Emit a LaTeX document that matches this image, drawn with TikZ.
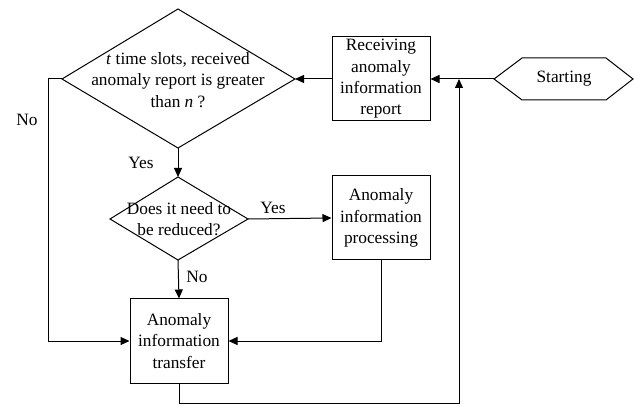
\documentclass[tikz,border=0pt]{standalone}
\usepackage{fontspec}
\setmainfont{Liberation Serif}
\usetikzlibrary{arrows.meta,shapes.geometric}
\begin{document}
\begin{tikzpicture}[x=1pt,y=-1pt,
  every node/.style={font=\fontsize{17.3}{21.3}\selectfont},
  box/.style={draw,line width=1pt,minimum width=98pt,minimum height=84pt,inner sep=0pt,align=center},
  lbl/.style={inner sep=0pt},
  conn/.style={line width=1pt},
  arr/.style={conn,-{Triangle[length=9pt,width=8pt]}}]
\useasboundingbox (0,0) rectangle (635,406);
% diamonds drawn as paths with text nodes
\node[lbl,align=center] (d1) at (178,80) {\textit{t} time slots, received\\anomaly report is greater\\than \textit{n} ?};
\draw[conn] (178,9) coordinate (d1t) -- (295,79) coordinate (d1r) -- (178,148) coordinate (d1b) -- (62,79) coordinate (d1l) -- cycle;
\node[lbl,align=center] (d2) at (179,219) {Does it need to\\be reduced?};
\draw[conn] (178,177) coordinate (d2t) -- (248,219) coordinate (d2r) -- (178,260) coordinate (d2b) -- (110,219) coordinate (d2l) -- cycle;
\node[box] (recv) at (381,79) {Receiving\\anomaly\\information\\report};
\node[box] (proc) at (381,218) {Anomaly\\information\\processing};
\node[box] (tran) at (179,341) {Anomaly\\information\\transfer};
\node[lbl] (start) at (564,79) {Starting};
\draw[conn] (494,79) coordinate (sl) -- (522,58) -- (606,58) -- (633,79) -- (606,100) -- (522,100) -- cycle;
\coordinate (j) at (459,79);
\coordinate (bl) at (179,403);
\coordinate (br) at (459,403);
\coordinate (nl) at (48,79);
% connectors
\draw[arr] (sl) -- (recv.east);
\draw[arr] (recv.west) -- (d1r);
\draw[arr] (d1b) -- (d2t);
\draw[arr] (d2r) -- (proc.west);
\draw[arr] (d2b) -- (tran.north);
\draw[arr] (d1l) -- (nl) |- (tran.west);
\draw[arr] (proc.south) |- (tran.east);
\draw[arr] (tran.south) -- (bl) -- (br) -- (j);
% labels
\node[lbl] (no1) at (27,120) {No};
\node[lbl] (yes1) at (141,163) {Yes};
\node[lbl] (yes2) at (273,208) {Yes};
\node[lbl] (no2) at (197,277) {No};
\end{tikzpicture}
\end{document}
